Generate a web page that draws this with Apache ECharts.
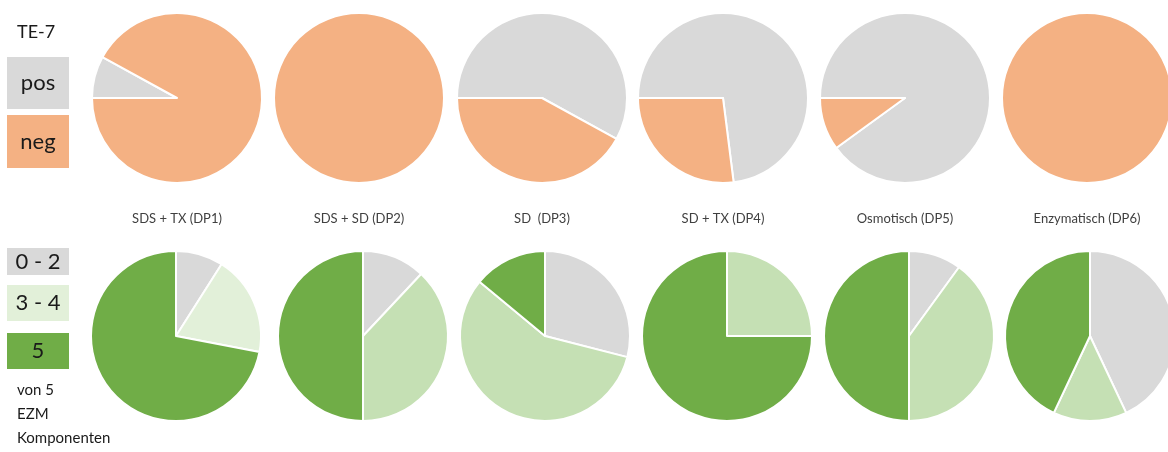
<!DOCTYPE html>
<html>
<head>
<meta charset="utf-8">
<script src="https://cdn.jsdelivr.net/npm/echarts@6/dist/echarts.min.js"></script>
<style>
html, body { margin: 0; padding: 0; background: #fff; }
#main { width: 1168px; height: 452px; }
</style>
</head>
<body>
<div id="main"></div>
<script>
// Kategorien
var categories = ['SDS + TX (DP1)', 'SDS + SD (DP2)', 'SD  (DP3)', 'SD + TX (DP4)', 'Osmotisch (DP5)', 'Enzymatisch (DP6)'];
// TE-7 (Anteil in %)
var pos = [8, 0, 58, 73, 90, 0];
var neg = [92, 100, 42, 27, 10, 100];
// von 5 EZM Komponenten (Anteil in %)
var ezm02 = [9, 12, 29, 0, 10, 43];
var ezm34 = [19, 38, 57, 25, 40, 14];
var ezm5 = [72, 50, 14, 75, 50, 43];

var GREY = '#D9D9D9', ORANGE = '#F4B183', LGREEN = '#C5E0B4', PGREEN = '#E2F0D9', DGREEN = '#70AD47';

var chart = echarts.init(document.getElementById('main'));

// Layout
var topX = [177, 359, 542, 723, 905, 1087];
var botX = [176, 363, 545, 727, 909, 1090];
var topY = 98, botY = 336, R = 85;

function slices(list) {
    // Nullwerte weglassen, sonst zeichnet der Rand eine Linie
    return list.filter(function (d) { return d.value > 0; });
}

var series = [];
categories.forEach(function (c, i) {
    series.push({
        type: 'pie',
        center: [topX[i], topY],
        radius: R,
        startAngle: 180,
        clockwise: true,
        label: { show: false },
        labelLine: { show: false },
        silent: true,
        itemStyle: { borderColor: '#fff', borderWidth: 2 },
        data: slices([
            { name: 'pos', value: pos[i], itemStyle: { color: GREY } },
            { name: 'neg', value: neg[i], itemStyle: { color: ORANGE } }
        ])
    });
    series.push({
        type: 'pie',
        center: [botX[i], botY],
        radius: R,
        startAngle: 90,
        clockwise: true,
        label: { show: false },
        labelLine: { show: false },
        silent: true,
        itemStyle: { borderColor: '#fff', borderWidth: 2 },
        data: slices([
            { name: '0 - 2', value: ezm02[i], itemStyle: { color: GREY } },
            { name: '3 - 4', value: ezm34[i], itemStyle: { color: i === 0 ? PGREEN : LGREEN } },
            { name: '5', value: ezm5[i], itemStyle: { color: DGREEN } }
        ])
    });
});

var font = 'Lato, "Open Sans", sans-serif';
var graphic = [];
// Beschriftung unter den oberen Kreisen
categories.forEach(function (c, i) {
    graphic.push({
        type: 'text', x: topX[i], y: 219,
        style: { text: c, fill: '#404040', font: '13px ' + font, textAlign: 'center', textVerticalAlign: 'middle' }
    });
});

// Legende links
function box(y, h, color, txt, size) {
    graphic.push({ type: 'rect', shape: { x: 7, y: y, width: 62, height: h }, style: { fill: color } });
    graphic.push({
        type: 'text', x: 38, y: y + h / 2,
        style: { text: txt, fill: '#1a1a1a', font: size + 'px ' + font, textAlign: 'center', textVerticalAlign: 'middle' }
    });
}
graphic.push({ type: 'text', x: 17, y: 32, style: { text: 'TE-7', fill: '#1a1a1a', font: '18px ' + font, textVerticalAlign: 'middle' } });
box(57, 52, GREY, 'pos', 22);
box(115, 53, ORANGE, 'neg', 22);
box(248, 27, GREY, '0 - 2', 22);
box(285, 36, PGREEN, '3 - 4', 22);
box(333, 36, DGREEN, '5', 22);
['von 5', 'EZM', 'Komponenten'].forEach(function (t, k) {
    graphic.push({ type: 'text', x: 17, y: 390 + k * 24, style: { text: t, fill: '#1a1a1a', font: '15px ' + font, textVerticalAlign: 'middle' } });
});

chart.setOption({
    animation: false,
    backgroundColor: '#fff',
    series: series,
    graphic: graphic
});
</script>
</body>
</html>
